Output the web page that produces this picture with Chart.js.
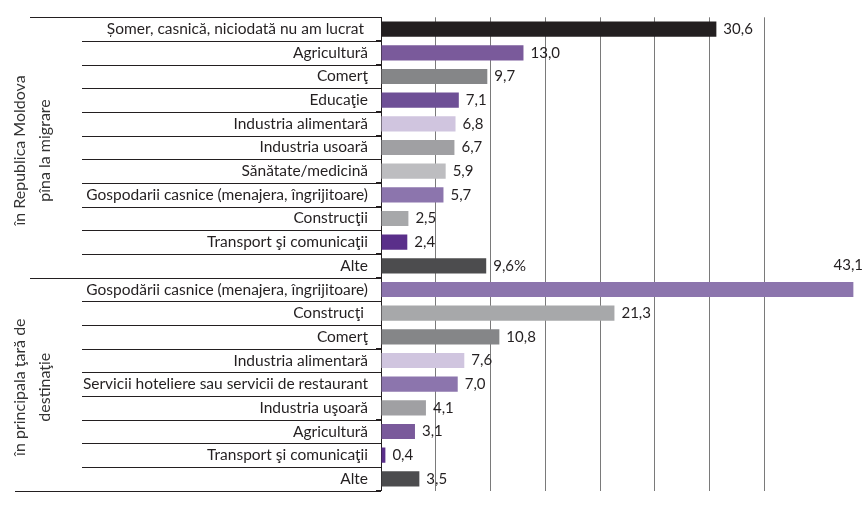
<!DOCTYPE html>
<html>
<head>
<meta charset="utf-8">
<script src="https://cdn.jsdelivr.net/npm/chart.js@4"></script>
<style>
  html, body { margin: 0; padding: 0; background: #fff; }
  #wrap { width: 864px; height: 508px; }
</style>
</head>
<body>
<div id="wrap"><canvas id="chart"></canvas></div>
<script>
// date ====================================================================
const categories = [
  "Șomer, casnică, niciodată nu am lucrat ",
  "Agricultură",
  "Comerţ",
  "Educaţie",
  "Industria alimentară",
  "Industria usoară",
  "Sănătate/medicină",
  "Gospodarii casnice (menajera, îngrijitoare)",
  "Construcţii",
  "Transport şi comunicaţii",
  "Alte",
  "Gospodării casnice (menajera, îngrijitoare)",
  "Construcţi ",
  "Comerţ",
  "Industria alimentară",
  "Servicii hoteliere sau servicii de restaurant",
  "Industria uşoară",
  "Agricultură",
  "Transport şi comunicaţii",
  "Alte",
];
const values = [30.6, 13.0, 9.7, 7.1, 6.8, 6.7, 5.9, 5.7, 2.5, 2.4, 9.6,
                43.1, 21.3, 10.8, 7.6, 7.0, 4.1, 3.1, 0.4, 3.5];
const percentAt = [10]; // eticheta "9,6%"
const groups = [
  { lines: ["în Republica Moldova", "pîna la migrare"], from: 0, to: 10 },
  { lines: ["în principala ţară de", "destinaţie"], from: 11, to: 19 },
];

const barColors = [
  "#231f20", "#7a5a9b", "#858688", "#6e5096", "#d0c5df", "#a0a0a3",
  "#bdbdc0", "#8c75ad", "#a7a8aa", "#5a2f8a", "#4c4c4e",
  "#8c75ad", "#a7a8aa", "#858688", "#d0c5df", "#8c75ad", "#a0a0a3",
  "#7a5a9b", "#5a2f8a", "#4c4c4e",
];

const FONT = "Lato";
const INK = "#231f20";

const fmt = (v, i) => v.toFixed(1).replace(".", ",") + (percentAt.includes(i) ? "%" : "");

// linii tabel + titluri grupe
const tablePlugin = {
  id: "tablePlugin",
  afterDraw(chart) {
    const ctx = chart.ctx;
    const y = chart.scales.y;
    const left = chart.chartArea.left;
    ctx.save();
    ctx.strokeStyle = INK;
    ctx.lineWidth = 1;
    for (let i = 0; i <= categories.length; i++) {
      const py = Math.round(y.getPixelForValue(i - 0.5)) + 0.5;
      let x0 = 82;
      if (i === 0 || i === 11) x0 = 30;
      if (i === categories.length) x0 = 15;
      ctx.beginPath();
      ctx.moveTo(x0, py);
      ctx.lineTo(left, py);
      ctx.stroke();
    }
    ctx.fillStyle = "#333";
    ctx.font = "16px " + FONT;
    ctx.textAlign = "center";
    ctx.textBaseline = "middle";
    groups.forEach((g) => {
      const top = y.getPixelForValue(g.from - 0.5);
      const bot = y.getPixelForValue(g.to + 0.5);
      const cy = (top + bot) / 2 + 3;
      g.lines.forEach((t, k) => {
        ctx.save();
        ctx.translate(20 + k * 25, cy);
        ctx.rotate(-Math.PI / 2);
        ctx.fillText(t, 0, 0);
        ctx.restore();
      });
    });
    ctx.restore();
  },
};

// etichete valori
const valuePlugin = {
  id: "valuePlugin",
  afterDatasetsDraw(chart) {
    const ctx = chart.ctx;
    const meta = chart.getDatasetMeta(0);
    ctx.save();
    ctx.fillStyle = INK;
    ctx.font = "15px " + FONT;
    ctx.textBaseline = "middle";
    meta.data.forEach((bar, i) => {
      const txt = fmt(values[i], i);
      const w = ctx.measureText(txt).width;
      if (bar.x + 7 + w > chart.chartArea.right) {
        ctx.textAlign = "right";
        ctx.fillText(txt, chart.chartArea.right - 1, bar.y - 24);
      } else {
        ctx.textAlign = "left";
        ctx.fillText(txt, bar.x + 7, bar.y);
      }
    });
    ctx.restore();
  },
};

new Chart(document.getElementById("chart"), {
  type: "bar",
  data: {
    labels: categories,
    datasets: [
      {
        data: values,
        backgroundColor: barColors,
        borderWidth: 0,
        barPercentage: 0.64,
        categoryPercentage: 1,
      },
    ],
  },
  options: {
    indexAxis: "y",
    responsive: true,
    maintainAspectRatio: false,
    animation: false,
    layout: { padding: { top: 15, bottom: 12, left: 0, right: 0 } },
    plugins: {
      legend: { display: false },
      tooltip: { enabled: false },
    },
    scales: {
      x: {
        min: 0,
        max: 44.07,
        ticks: { display: false, stepSize: 5 },
        grid: { color: "#7a7a7a", drawTicks: false },
        border: { display: false },
      },
      y: {
        afterFit(scale) {
          scale.width = 381;
        },
        ticks: {
          autoSkip: false,
          color: INK,
          padding: 8,
          font: { family: FONT, size: 15.5 },
        },
        grid: {
          drawOnChartArea: false,
          tickLength: 5,
          color: INK,
        },
        border: { display: true, color: INK },
      },
    },
  },
  plugins: [tablePlugin, valuePlugin],
});
</script>
</body>
</html>
